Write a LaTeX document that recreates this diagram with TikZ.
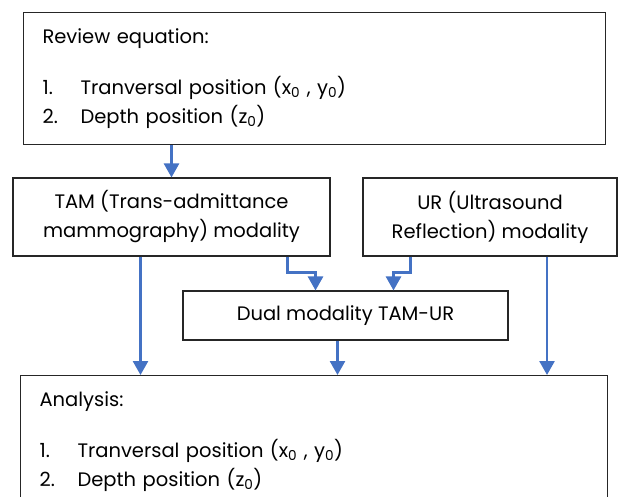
\documentclass[tikz,border=0pt]{standalone}
\usepackage{fontspec}
\setmainfont{Poppins}
\usepackage{xcolor}
\usetikzlibrary{arrows.meta}
\definecolor{flowblue}{RGB}{68,114,196}
\tikzset{
box/.style = {rectangle, draw=black!85, line width=1.1pt, inner sep=0pt,
              align=center},
listbox/.style = {box, anchor=north west, align=left, inner xsep=19pt},
flow/.style = {draw=flowblue, line width=2.6pt,
               -{Triangle[width=15pt,length=14pt]}}
}
\newcommand{\itm}[1]{\makebox[38pt][l]{#1}}

\begin{document}
\begin{tikzpicture}[x=1pt, y=-1pt, font=\fontsize{19.5}{29}\selectfont]
\useasboundingbox (0,0) rectangle (628,496);
\clip (0,0) rectangle (628,496);

\node[listbox, minimum width=582pt, text width=544pt, minimum height=132pt] (review) at (23,12)
  {Review equation:\\[22pt]
   \itm{1.}Tranversal position (x\textsubscript{0} , y\textsubscript{0})\\
   \itm{2.}Depth position (z\textsubscript{0})};
\node[box, minimum width=317pt, minimum height=78pt] (tam) at (171.5,217)
  {TAM (Trans-admittance\\ mammography) modality};
\node[box, minimum width=254pt, minimum height=78pt] (ur) at (490,217)
  {UR (Ultrasound\\ Reflection) modality};
\node[box, minimum width=325pt, minimum height=49pt] (dual) at (345.5,315.5)
  {Dual modality TAM-UR};
\node[listbox, minimum width=587pt, text width=549pt, minimum height=132pt] (analysis) at (20,375)
  {Analysis:\\[22pt]
   \itm{1.}Tranversal position (x\textsubscript{0} , y\textsubscript{0})\\
   \itm{2.}Depth position (z\textsubscript{0})};

% connectors
\coordinate (tamout) at ([xshift=-43pt]tam.south east);
\coordinate (urout) at ([xshift=48pt]ur.south west);
\draw[flow] (tam.north |- review.south) -- (tam.north);
\draw[flow] ([xshift=-31pt]tam.south) -- ([xshift=-31pt]tam.south |- analysis.north);
\draw[flow] (tamout) -- ++(0,16) -| ([xshift=-30pt]dual.north);
\draw[flow] (urout) -- ++(0,16) -| ([xshift=48pt]dual.north);
\draw[flow] ([xshift=-8pt]dual.south) -- ([xshift=-8pt]dual.south |- analysis.north);
\draw[flow] ([xshift=57pt]ur.south) -- ([xshift=57pt]ur.south |- analysis.north);
\end{tikzpicture}
\end{document}
